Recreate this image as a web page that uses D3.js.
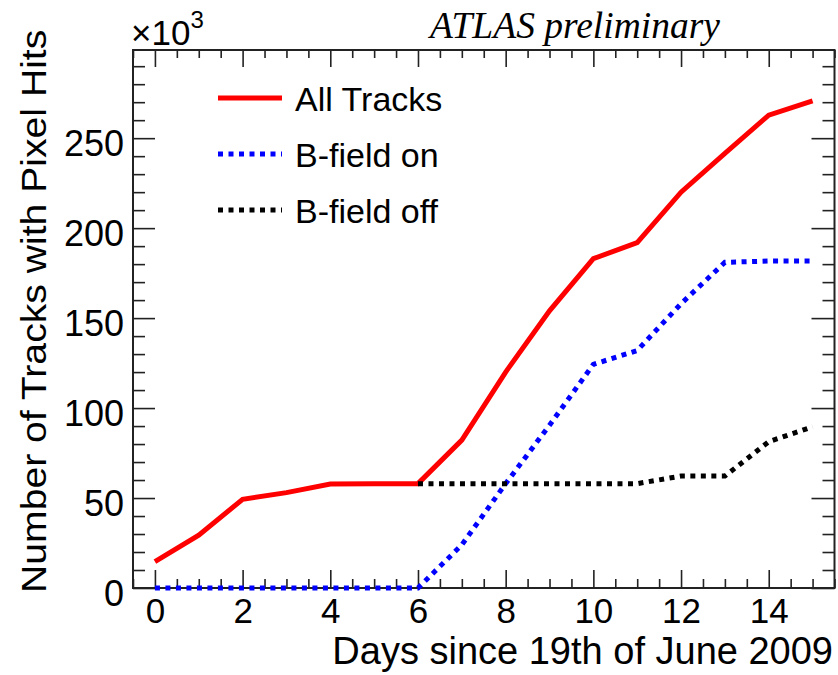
<!DOCTYPE html>
<html>
<head>
<meta charset="utf-8">
<script src="https://cdn.jsdelivr.net/npm/d3@7"></script>
<style>
  html, body { margin: 0; padding: 0; background: #fff; }
  svg { display: block; }
  text { font-family: "Liberation Sans", Arial, Helvetica, sans-serif; fill: #000; }
</style>
</head>
<body>
<svg id="chart" width="838" height="675"></svg>
<script>
// Daily counts of tracks with pixel hits (in thousands)
const days = [0, 1, 2, 3, 4, 5, 6, 7, 8, 9, 10, 11, 12, 13, 14, 15];
const allTracks = [14.6, 29.4, 49.3, 53, 57.8, 58, 58, 82.2, 120, 154, 183, 192, 220, 241.5, 262.8, 270.7];
const bFieldOn = [0, 0, 0, 0, 0, 0, 0, 24, 58, 90.5, 124.3, 132, 158, 181, 181.7, 181.7];
const bFieldOffDays = [6, 7, 8, 9, 10, 11, 12, 13, 14, 15];
const bFieldOff = [58, 58, 58, 58, 58, 58, 62.2, 62.2, 81.3, 89.6];

const xMajorTicks = [0, 2, 4, 6, 8, 10, 12, 14];
const yMajorTicks = [0, 50, 100, 150, 200, 250];
const seriesNames = ["All Tracks", "B-field on", "B-field off"];

const svg = d3.select("#chart");

const x = d3.scaleLinear().domain([-0.5, 15.5]).range([133, 834.5]);
const y = d3.scaleLinear().domain([0, 299]).range([588, 50]);

const xMinor = d3.range(-0.5, 15.51, 0.5).filter(v => !xMajorTicks.includes(v));
const yMinor = d3.range(0, 299, 10).filter(v => !yMajorTicks.includes(v));

function styleAxis(g) {
  g.select(".domain").remove();
  g.selectAll(".tick line").attr("stroke", "#222").attr("stroke-width", 1.6);
}

// bottom axis with labels
svg.append("g").attr("transform", `translate(0,${y(0)})`)
  .call(d3.axisBottom(x).tickValues(xMajorTicks).tickSizeInner(-18).tickSizeOuter(0).tickPadding(10).tickFormat(d3.format("d")))
  .call(styleAxis)
  .call(g => g.selectAll("text").attr("font-size", 35).attr("font-family", "Liberation Sans, Arial, sans-serif"));
svg.append("g").attr("transform", `translate(0,${y(0)})`)
  .call(d3.axisBottom(x).tickValues(xMinor).tickSizeInner(-9).tickSizeOuter(0).tickFormat(""))
  .call(styleAxis);

// top axis
svg.append("g").attr("transform", `translate(0,${y.range()[1]})`)
  .call(d3.axisTop(x).tickValues(xMajorTicks).tickSizeInner(-17).tickSizeOuter(0).tickFormat(""))
  .call(styleAxis);
svg.append("g").attr("transform", `translate(0,${y.range()[1]})`)
  .call(d3.axisTop(x).tickValues(xMinor).tickSizeInner(-8).tickSizeOuter(0).tickFormat(""))
  .call(styleAxis);

// left axis with labels
svg.append("g").attr("transform", `translate(${x.range()[0]},0)`)
  .call(d3.axisLeft(y).tickValues(yMajorTicks).tickSizeInner(-22).tickSizeOuter(0).tickPadding(9).tickFormat(d3.format("d")))
  .call(styleAxis)
  .call(g => g.selectAll("text").attr("font-size", 36).attr("dy", "0.49em").attr("font-family", "Liberation Sans, Arial, sans-serif"));
svg.append("g").attr("transform", `translate(${x.range()[0]},0)`)
  .call(d3.axisLeft(y).tickValues(yMinor).tickSizeInner(-12).tickSizeOuter(0).tickFormat(""))
  .call(styleAxis);

// right axis
svg.append("g").attr("transform", `translate(${x.range()[1]},0)`)
  .call(d3.axisRight(y).tickValues(yMajorTicks).tickSizeInner(-23).tickSizeOuter(0).tickFormat(""))
  .call(styleAxis);
svg.append("g").attr("transform", `translate(${x.range()[1]},0)`)
  .call(d3.axisRight(y).tickValues(yMinor).tickSizeInner(-12).tickSizeOuter(0).tickFormat(""))
  .call(styleAxis);

// frame
svg.append("rect")
  .attr("x", x.range()[0]).attr("y", y.range()[1])
  .attr("width", x.range()[1] - x.range()[0])
  .attr("height", y.range()[0] - y.range()[1])
  .attr("fill", "none").attr("stroke", "#222").attr("stroke-width", 2);

// series
const line = d3.line().x(d => x(d[0])).y(d => y(d[1]));
const series = [
  { name: seriesNames[0], pts: days.map((d, i) => [d, allTracks[i]]), color: "#ff0000", dash: null, width: 5 },
  { name: seriesNames[1], pts: days.map((d, i) => [d, bFieldOn[i]]), color: "#0000ff", dash: "5,5.5", width: 5 },
  { name: seriesNames[2], pts: bFieldOffDays.map((d, i) => [d, bFieldOff[i]]), color: "#000000", dash: "5,5.5", width: 5 }
];

svg.append("g").selectAll("path").data(series).join("path")
  .attr("d", s => line(s.pts))
  .attr("fill", "none")
  .attr("stroke", s => s.color)
  .attr("stroke-width", s => s.width)
  .attr("stroke-dasharray", s => s.dash)
  .attr("stroke-linejoin", "miter");

// legend
const legend = svg.append("g");
series.forEach((s, i) => {
  const ly = 98 + i * 56;
  legend.append("line")
    .attr("x1", 218).attr("x2", 282).attr("y1", ly).attr("y2", ly)
    .attr("stroke", s.color).attr("stroke-width", 5)
    .attr("stroke-dasharray", s.dash);
  legend.append("text")
    .attr("x", 295).attr("y", ly + 13)
    .attr("font-size", 34)
    .text(s.name);
});

// axis titles
svg.append("text")
  .attr("x", 833).attr("y", 664)
  .attr("text-anchor", "end")
  .attr("font-size", 38)
  .text("Days since 19th of June 2009");

svg.append("text")
  .attr("transform", "translate(46,593) rotate(-90) scale(1.03,0.9)")
  .attr("text-anchor", "start")
  .attr("font-size", 38)
  .text("Number of Tracks with Pixel Hits");

// exponent of the y axis
const expo = svg.append("text").attr("x", 131).attr("y", 45).attr("font-size", 35);
expo.append("tspan").text("×10");
expo.append("tspan").attr("font-size", 24).attr("dy", -17).text("3");

// experiment tag
svg.append("text")
  .attr("x", 430).attr("y", 38)
  .attr("font-style", "italic")
  .attr("font-size", 37.5)
  .style("font-family", "'Liberation Serif', 'Times New Roman', serif")
  .text("ATLAS preliminary");
</script>
</body>
</html>
